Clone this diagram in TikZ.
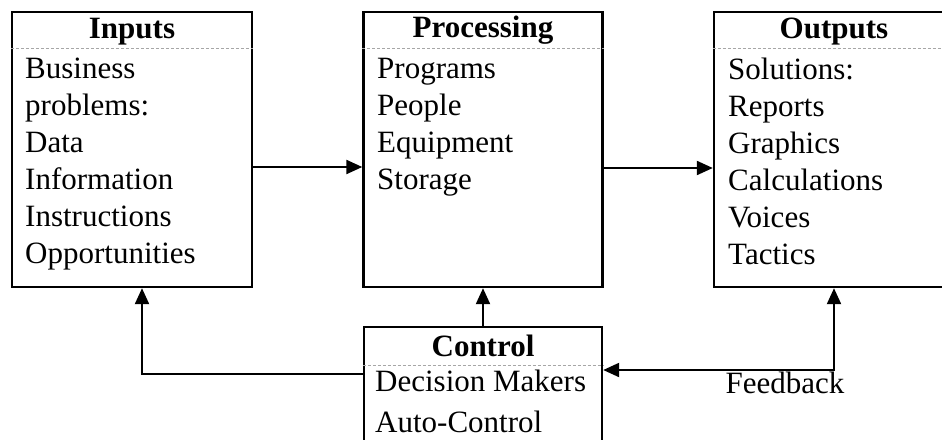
\documentclass[tikz,border=0pt]{standalone}
\usepackage{fontspec}
\setmainfont{Liberation Serif}
\usetikzlibrary{arrows.meta,positioning}
\def\boxfont{\fontsize{31}{37}\selectfont}

\begin{document}
\begin{tikzpicture}[x=1pt,y=-1pt,
  block/.style={draw,line width=2.4pt,minimum width=240pt,minimum height=275pt,inner sep=0pt},
  head/.style={font=\boxfont\bfseries,anchor=base,inner sep=0pt},
  body/.style={font=\boxfont,align=left,anchor=north west,inner sep=0pt},
  sepline/.style={gray!70,line width=1pt,densely dashed},
  flow/.style={line width=2.2pt,-{Triangle[length=16pt,width=14pt]}}]
\clip (0,0) rectangle (942,439);
\fill[white] (0,0) rectangle (942,439);
\node (inputs) at (132,149.5) [block] {};
\node (processing) at (483,149.5) [block,minimum width=239pt] {};
\node (outputs) at (834,149.5) [block] {};
\node (control) at (483,398.5) [block,minimum width=238pt,minimum height=143pt] {};
\draw[sepline] (inputs.west |- 0,48) -- (inputs.east |- 0,48);
\draw[sepline] (processing.west |- 0,48) -- (processing.east |- 0,48);
\draw[sepline] (outputs.west |- 0,48) -- (outputs.east |- 0,48);
\draw[sepline] (control.west |- 0,365) -- (control.east |- 0,365);
\node (inputs head) at (inputs.north |- 0,38) [head] {Inputs};
\node (processing head) at (processing.north |- 0,37) [head] {Processing};
\node (outputs head) at (outputs.north |- 0,38) [head] {Outputs};
\node (control head) at (control.north |- 0,356) [head] {Control};
\node (inputs body) at (25,57.5) [body] {Business\\problems:\\Data\\Information\\Instructions\\Opportunities};
\node (processing body) at (377,57.5) [body] {Programs\\People\\Equipment\\Storage};
\node (outputs body) at (728,57.5) [body] {Solutions:\\Reports\\Graphics\\Calculations\\Voices\\Tactics};
\node (control body) at (375,370) [body,font=\fontsize{31}{41}\selectfont] {Decision Makers\\Auto-Control};
\draw[flow] (inputs.east |- 0,167) -- (processing.west |- 0,167);
\draw[flow] (processing.east |- 0,168) -- (outputs.west |- 0,168);
\draw[flow] (control.north) -- (processing.south);
\draw[flow] (control.west |- 0,374) -| (inputs.south -| 142,0);
\coordinate (fb) at (outputs.south |- 0,370);
\draw[flow,{Triangle[length=16pt,width=14pt]}-{Triangle[length=16pt,width=14pt]}] (control.east |- fb) -- (fb) -- (outputs.south);
\node (feedback) at (785,393) [anchor=base,inner sep=0pt,font=\boxfont] {Feedback};
\end{tikzpicture}
\end{document}
